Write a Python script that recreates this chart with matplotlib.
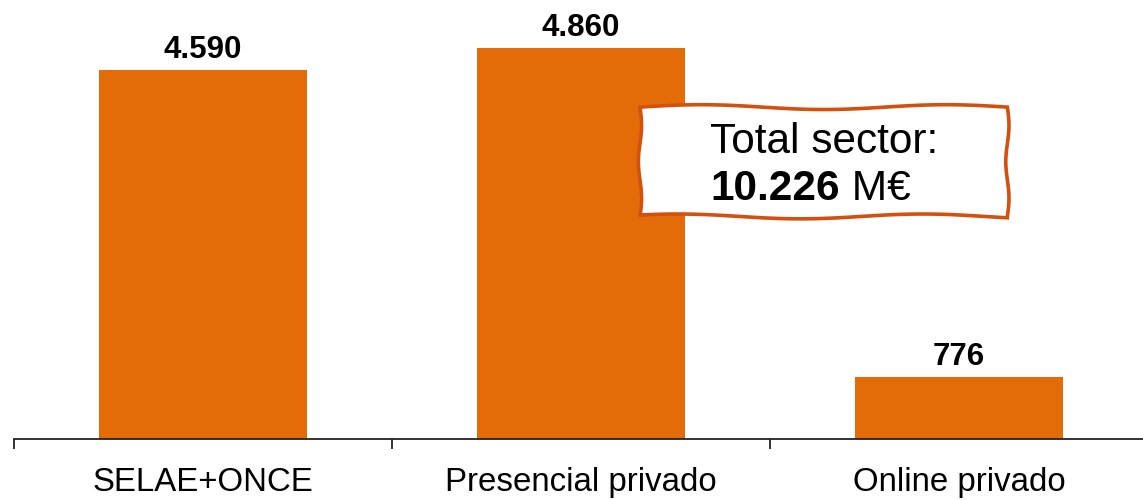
import numpy as np
import matplotlib
matplotlib.use("Agg")
import matplotlib.pyplot as plt
from matplotlib.patches import Polygon

# Facturación del sector del juego (M€)
categories = ["SELAE+ONCE", "Presencial privado", "Online privado"]
values = [4590, 4860, 776]
value_labels = ["4.590", "4.860", "776"]
total_label = "10.226"

plt.rcParams['font.family'] = ['Liberation Sans', 'DejaVu Sans']

bar_color = "#E36C09"
box_edge = "#D4500F"

fig = plt.figure(figsize=(11.43, 5.0), dpi=100)
# axes run a few pixels past the right edge so the baseline reaches the border
ax = fig.add_axes([14 / 1143, 61 / 500, 1134 / 1143, 439 / 500])

x = np.arange(len(categories))
ax.bar(x, values, width=0.55, color=bar_color, zorder=2)
ax.set_xlim(-0.5, len(categories) - 0.5)
ax.set_ylim(0, 5457)

for xi, v, lab in zip(x, values, value_labels):
    ax.annotate(lab, xy=(xi, v), xytext=(0, 3.5), textcoords="offset points",
                ha="center", va="bottom", fontsize=22.5, fontweight="bold")

# separators as major ticks, names as minor ticks
ax.set_xticks(np.arange(len(categories) + 1) - 0.5)
ax.set_xticklabels([])
ax.set_xticks(x, minor=True)
ax.set_xticklabels(categories, minor=True, fontsize=23.8)
ax.tick_params(axis="x", which="major", direction="out", length=7.5, width=1.3, color="#222222")
ax.tick_params(axis="x", which="minor", length=0, pad=20)
ax.set_yticks([])
for side in ["top", "right", "left"]:
    ax.spines[side].set_visible(False)
ax.spines["bottom"].set_linewidth(1.3)
ax.spines["bottom"].set_color("#222222")

# wavy callout box (axes fraction coordinates)
left, right, bottom, top = 0.552, 0.876, 0.507, 0.756
t = np.linspace(0, 1, 80)
amp_h, amp_v = 0.0014, 0.0055
top_edge = np.column_stack([left + (right - left) * t, top + amp_v * np.sin(2 * np.pi * 1.5 * t)])
right_edge = np.column_stack([right + amp_h * np.sin(2 * np.pi * t[::-1] * 1.5), bottom + (top - bottom) * t[::-1]])
bottom_edge = np.column_stack([left + (right - left) * t[::-1], bottom + amp_v * np.sin(2 * np.pi * 1.5 * t[::-1] + 0.6)])
left_edge = np.column_stack([left + amp_h * np.sin(2 * np.pi * t * 1.5), bottom + (top - bottom) * t])
verts = np.vstack([top_edge, right_edge, bottom_edge, left_edge])
box = Polygon(verts, closed=True, transform=ax.transAxes, facecolor="white",
              edgecolor=box_edge, linewidth=2.6, zorder=5, clip_on=False)
ax.add_patch(box)

ax.text(0.614, 0.651, "Total sector:", transform=ax.transAxes, fontsize=30.5,
        va="baseline", ha="left", zorder=6)
t1 = ax.text(0.614, 0.544, total_label, transform=ax.transAxes, fontsize=30.5,
             fontweight="bold", va="baseline", ha="left", zorder=6)
ax.annotate(" M€", xy=(1, 0), xycoords=t1, fontsize=30.5, va="bottom", ha="left", zorder=6)

fig.savefig("out.png", dpi=100)
